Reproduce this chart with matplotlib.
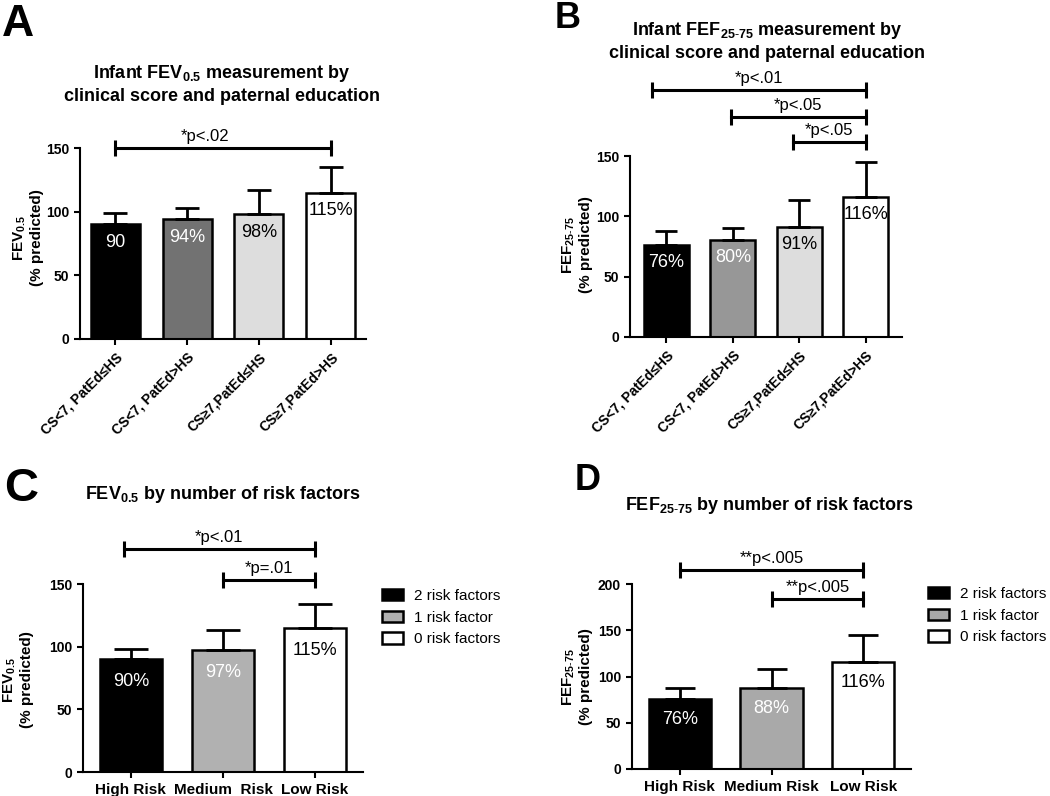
import matplotlib
matplotlib.use('Agg')
import matplotlib.pyplot as plt
import numpy as np

plt.rcParams['font.family'] = ['Liberation Sans', 'DejaVu Sans']
plt.rcParams['mathtext.fontset'] = 'custom'
plt.rcParams['mathtext.rm'] = 'Liberation Sans'
plt.rcParams['mathtext.bf'] = 'Liberation Sans:bold'
plt.rcParams['mathtext.it'] = 'Liberation Sans:italic'

# ---------------- data ----------------
a_categories = ["CS<7, PatEd≤HS", "CS<7, PatEd>HS", "CS≥7,PatEd≤HS", "CS≥7,PatEd>HS"]
a_values = [90, 94, 98, 115]
a_err = [9, 9, 19, 20]
a_labels = ["90", "94%", "98%", "115%"]
a_brackets = [(0, 3, 150, "*p<.02", 1.25)]

b_categories = ["CS<7, PatEd≤HS", "CS<7, PatEd>HS", "CS≥7,PatEd≤HS", "CS≥7,PatEd>HS"]
b_values = [76, 80, 91, 116]
b_err = [12, 10, 22.5, 29]
b_labels = ["76%", "80%", "91%", "116%"]
b_brackets = [(-0.22, 3, 205, "*p<.01", None),
              (0.97, 3, 182, "*p<.05", None),
              (1.91, 3, 162, "*p<.05", None)]

c_categories = ["High Risk", "Medium  Risk", "Low Risk"]
c_values = [90, 97, 115]
c_err = [8, 16, 19]
c_labels = ["90%", "97%", "115%"]
c_brackets = [(-0.08, 2, 178, "*p<.01", None),
              (1, 2, 153, "*p=.01", None)]

d_categories = ["High Risk", "Medium Risk", "Low Risk"]
d_values = [76, 88, 116]
d_err = [12, 20, 29]
d_labels = ["76%", "88%", "116%"]
d_brackets = [(0, 2, 215, "**p<.005", None),
              (1, 2, 184, "**p<.005", None)]

legend_labels = ["2 risk factors", "1 risk factor", "0 risk factors"]

# ---------------- figure ----------------
W, H = 1050, 796
fig = plt.figure(figsize=(W / 100, H / 100), dpi=100)


def rect(l, t, r, b):
    return [l / W, 1 - b / H, (r - l) / W, (b - t) / H]


def panel(r, cats, vals, errs, labels, colors, lcolors, ymax, yticks, brackets,
          capsize, label_off, rotate, xpad):
    ax = fig.add_axes(r)
    x = np.arange(len(cats))
    bars = ax.bar(x, vals, width=0.68, color=colors, edgecolor='black',
                  linewidth=1.8, zorder=2)
    ax.errorbar(x, vals, yerr=[np.zeros(len(vals)), errs], fmt='none',
                ecolor='black', elinewidth=2.0, capsize=capsize, capthick=2.0,
                zorder=3)
    for xi, v, t, c in zip(x, vals, labels, lcolors):
        ax.annotate(t, (xi, v), xytext=(0, -label_off), textcoords='offset points',
                    ha='center', va='center', color=c, fontsize=13, zorder=4)
    for x1, x2, y, t, tx in brackets:
        ax.plot([x1, x2], [y, y], color='black', lw=2.2, marker='|', ms=11.5,
                mew=2.2, clip_on=False, zorder=5)
        cx = (x1 + x2) / 2 if tx is None else tx
        ax.annotate(t, (cx, y), xytext=(0, 5), textcoords='offset points',
                    ha='center', va='baseline', fontsize=12, annotation_clip=False)
    ax.set_ylim(0, ymax)
    ax.set_yticks(yticks)
    ax.set_xlim(-xpad, len(cats) - 1 + xpad)
    ax.set_xticks(x)
    for s in ['top', 'right']:
        ax.spines[s].set_visible(False)
    for s in ['left', 'bottom']:
        ax.spines[s].set_linewidth(1.5)
    ax.tick_params(direction='out', length=4.5, width=1.5, labelsize=10)
    if rotate:
        ax.set_xticklabels(cats, rotation=45, ha='right', va='top',
                           rotation_mode='anchor', fontweight='bold')
    else:
        ax.set_xticklabels(cats, fontweight='bold', fontsize=11)
    for tl in ax.get_yticklabels():
        tl.set_fontweight('bold')
    ax.patch.set_alpha(0)
    return ax, bars


# Panel A
axA, _ = panel(rect(80, 148, 366, 339), a_categories, a_values, a_err, a_labels,
               ['black', '#727272', '#dddddd', 'white'],
               ['white', 'white', 'black', 'black'],
               150, [0, 50, 100, 150], a_brackets, 8.5, 13, True, 0.49)
# Panel B
axB, _ = panel(rect(630, 156, 902, 337), b_categories, b_values, b_err, b_labels,
               ['black', '#979797', '#dddddd', 'white'],
               ['white', 'white', 'black', 'black'],
               150, [0, 50, 100, 150], b_brackets, 8, 12.5, True, 0.55)
# Panel C
axC, barsC = panel(rect(83, 584, 363, 772), c_categories, c_values, c_err, c_labels,
                   ['black', '#b1b1b1', 'white'],
                   ['white', 'white', 'black'],
                   150, [0, 50, 100, 150], c_brackets, 12, 16, False, 0.52)
# Panel D
axD, barsD = panel(rect(632, 584, 911, 769), d_categories, d_values, d_err, d_labels,
                   ['black', '#a9a9a9', 'white'],
                   ['white', 'white', 'black'],
                   200, [0, 50, 100, 150, 200], d_brackets, 11, 15, False, 0.52)

for ax, bars, lx, ly in [(axC, barsC, 382, 589), (axD, barsD, 928, 587)]:
    ax.legend(bars, legend_labels, loc='upper left',
              bbox_to_anchor=(lx / W, 1 - ly / H), bbox_transform=fig.transFigure,
              frameon=False, fontsize=11, handlelength=1.4, handleheight=0.75,
              handletextpad=0.7, labelspacing=0.5, borderpad=0, borderaxespad=0)

# Titles
fig.text(222 / W, 1 - 84 / H,
         "Infant FEV$_{\\mathbf{0.5}}$ measurement by\nclinical score and paternal education",
         ha='center', va='center', fontsize=13, fontweight='bold', linespacing=1.3)
fig.text(767 / W, 1 - 41 / H,
         "Infant FEF$_{\\mathbf{25\\text{-}75}}$ measurement by\nclinical score and paternal education",
         ha='center', va='center', fontsize=13, fontweight='bold', linespacing=1.3)
fig.text(223 / W, 1 - 495 / H, "FEV$_{\\mathbf{0.5}}$ by number of risk factors",
         ha='center', va='center', fontsize=13, fontweight='bold')
fig.text(770 / W, 1 - 506 / H, "FEF$_{\\mathbf{25\\text{-}75}}$ by number of risk factors",
         ha='center', va='center', fontsize=13, fontweight='bold')

# Y labels
for x, y, t in [(28, 238, "FEV$_{\\mathbf{0.5}}$\n(% predicted)"),
                (577, 245, "FEF$_{\\mathbf{25\\text{-}75}}$\n(% predicted)"),
                (18, 680, "FEV$_{\\mathbf{0.5}}$\n(% predicted)"),
                (577, 677, "FEF$_{\\mathbf{25\\text{-}75}}$\n(% predicted)")]:
    fig.text(x / W, 1 - y / H, t, rotation=90, ha='center', va='center',
             fontsize=11, fontweight='bold', linespacing=1.15)

# Panel letters
for x, y, t, s in [(18, 36, 'A', 32), (568, 28, 'B', 26), (21, 501, 'C', 34), (588, 490, 'D', 26)]:
    fig.text(x / W, 1 - y / H, t, ha='center', va='baseline', fontsize=s, fontweight='bold')

fig.savefig('out.png', dpi=100, facecolor='white')
